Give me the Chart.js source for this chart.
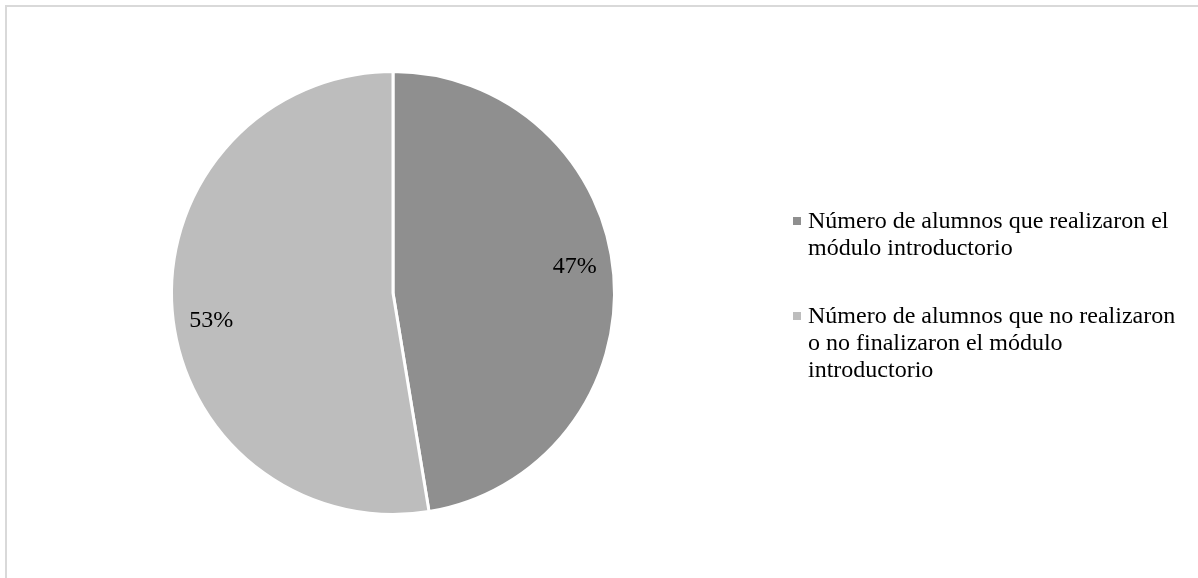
<!DOCTYPE html>
<html>
<head>
<meta charset="utf-8">
<script src="https://cdn.jsdelivr.net/npm/chart.js@4/dist/chart.umd.min.js"></script>
<style>
  html, body { margin: 0; padding: 0; background: #fff; overflow: hidden; }
  #frame { position: absolute; left: 5px; top: 5px; width: 1210px; height: 600px;
           border-left: 2px solid #d9d9d9; border-top: 2px solid #d9d9d9; }
  #wrap { position: absolute; left: 0; top: 0; width: 1198px; height: 578px; }
</style>
</head>
<body>
<div id="frame"></div>
<div id="wrap"><canvas id="pieChart" width="1198" height="578"></canvas></div>
<script>
// data
const categories = [
    ['Número de alumnos que realizaron el', 'módulo introductorio'],
    ['Número de alumnos que no realizaron', 'o no finalizaron el módulo', 'introductorio']
];
const shares = [47.4, 52.6];
const sliceColors = ['#8f8f8f', '#bdbdbd'];

const FONT = '24px "Liberation Serif", "Times New Roman", serif';

// percentage labels inside the slices
const sliceLabels = {
    id: 'sliceLabels',
    afterDatasetsDraw(chart) {
        const ctx = chart.ctx;
        const meta = chart.getDatasetMeta(0);
        const total = shares.reduce((a, b) => a + b, 0);
        ctx.save();
        ctx.font = FONT;
        ctx.fillStyle = '#000';
        ctx.textAlign = 'center';
        ctx.textBaseline = 'middle';
        meta.data.forEach((arc, i) => {
            const mid = (arc.startAngle + arc.endAngle) / 2 - 0.065;
            const r = arc.outerRadius * 0.83;
            const x = arc.x + Math.cos(mid) * r;
            const y = arc.y + Math.sin(mid) * r + 1;
            ctx.fillText(Math.round(shares[i] / total * 100) + '%', x, y);
        });
        ctx.restore();
    }
};

// legend on the right, wrapped the same way as the original
const sideLegend = {
    id: 'sideLegend',
    afterDraw(chart) {
        const ctx = chart.ctx;
        const x0 = 793, textX = 808, lineH = 27;
        const baselines = [228, 323];
        ctx.save();
        ctx.font = FONT;
        ctx.textBaseline = 'alphabetic';
        ctx.textAlign = 'left';
        categories.forEach((lines, i) => {
            ctx.fillStyle = sliceColors[i];
            ctx.fillRect(x0, baselines[i] - 11, 8, 8);
            ctx.fillStyle = '#000';
            lines.forEach((t, j) => ctx.fillText(t, textX, baselines[i] + j * lineH));
        });
        ctx.restore();
    }
};

new Chart(document.getElementById('pieChart'), {
    type: 'pie',
    data: {
        labels: categories.map(c => c.join(' ')),
        datasets: [{
            data: shares,
            backgroundColor: sliceColors,
            borderColor: '#ffffff',
            borderWidth: 3
        }]
    },
    options: {
        responsive: false,
        animation: false,
        layout: { padding: { left: 170, right: 582, top: 70, bottom: 62 } },
        plugins: {
            legend: { display: false },
            tooltip: { enabled: false }
        }
    },
    plugins: [sliceLabels, sideLegend]
});
</script>
</body>
</html>
